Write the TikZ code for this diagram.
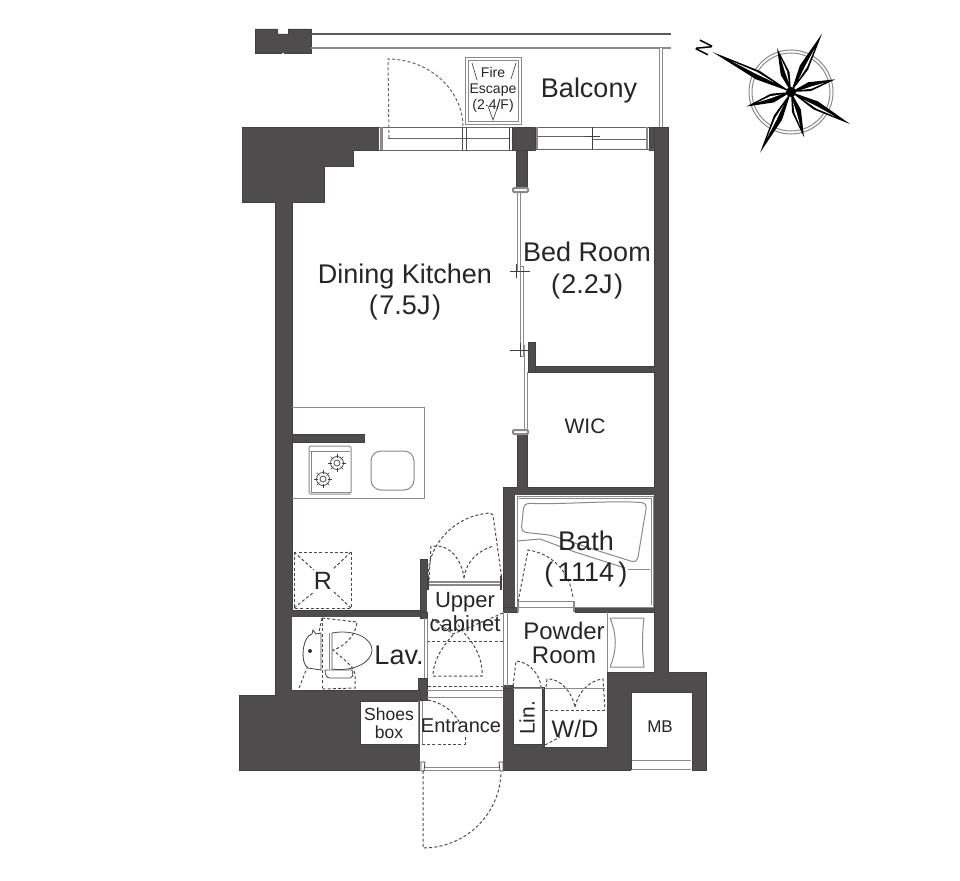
\documentclass[tikz,border=0pt]{standalone}
\usepackage{fontspec}
\setmainfont{Liberation Sans}
\definecolor{wallgray}{HTML}{4F4C4D}
\definecolor{linegray}{HTML}{8A8A8A}
\tikzset{
  wallfill/.style={fill=wallgray,draw=black!75,line width=0.6pt},
  roomfill/.style={fill=white,draw=none},
  fineline/.style={draw=linegray,line width=1pt},
  darkline/.style={draw=black!75,line width=0.8pt},
  swing/.style={draw=black!70,line width=1pt,dash pattern=on 3pt off 2.2pt},
  roomtext/.style={font=\fontsize{27}{31.5}\selectfont,align=center,inner sep=0pt,text=black!85},
  smalltext/.style={font=\fontsize{21}{24}\selectfont,align=center,inner sep=0pt,text=black!85},
  tinytext/.style={font=\fontsize{14}{16}\selectfont,align=center,inner sep=0pt,text=black!85}
}
\begin{document}
\begin{tikzpicture}[x=1pt,y=-1pt]

  \useasboundingbox (0,0) rectangle (960,880);

  \path[wallfill] (242,127) -- (668,127) -- (668,672) -- (706,672) -- (706,770) -- (239,770) -- (239,695) -- (275,695) -- (275,202) -- (242,202) -- cycle; %WALLS

  \path[roomfill] (292,202) -- (324,202) -- (324,166) -- (353,166) -- (353,150) -- (516,150) -- (516,432) -- (517,432) -- (517,487) -- (503,487) -- (503,580) -- (427,580) -- (427,559) -- (420,559) -- (420,610) -- (292,610) -- cycle; %DK
  \path[roomfill] (516,190) rectangle (528,432); %SLIDING
  \path[roomfill] (379,125) rectangle (512,151); %WINDOW-L
  \path[roomfill] (535,125) rectangle (649,151); %WINDOW-R
  \path[roomfill] (527,150) rectangle (654,366); %BED
  \path[roomfill] (527,372) rectangle (654,487); %WIC
  \path[roomfill] (515,495) rectangle (654,607); %BATH
  \path[roomfill] (515,606) rectangle (575,612); %BATH-DOOR
  \path[roomfill] (427,580) rectangle (503,700); %CABINET
  \path[roomfill] (292,617) rectangle (420,690); %LAV
  \path[roomfill] (419,617) rectangle (427,678); %LAV-DOOR
  \path[roomfill] (420,700) rectangle (503,772); %ENTRANCE
  \path[roomfill] (503,612) -- (654,612) -- (654,672) -- (607,672) -- (607,747) -- (544,747) -- (544,687) -- (503,687) -- cycle; %POWDER
  \path[roomfill] (513,689) rectangle (542,744); %LIN
  \path[roomfill] (360,701) rectangle (419,744); %SHOES
  \path[roomfill] (631,692) rectangle (692,771); %MB

  \draw[darkline] (292,202) -- (324,202) -- (324,166) -- (353,166) -- (353,150) -- (379,150); %STEPS
  \draw[darkline] (292,202) -- (292,610) -- (420,610) -- (420,559) -- (427,559) -- (427,580); %DK-EDGE
  \draw[darkline] (516,150) -- (516,188); %
  \draw[darkline] (527,150) -- (527,188); %
  \draw[darkline] (517,432) -- (517,487) -- (503,487) -- (503,612); %
  \draw[darkline] (527,432) -- (527,487) -- (654,487); %
  \draw[darkline] (654,150) -- (654,366) -- (535,366); %
  \draw[darkline] (527,372) -- (654,372) -- (654,487); %
  \draw[darkline] (360,701) -- (360,744) -- (418,744); %
  \draw[darkline] (360,701) -- (418,701); %
  \draw[darkline] (292,690) -- (420,690); %
  \draw[darkline] (513,689) -- (513,744) -- (542,744); %
  \draw[darkline] (544,747) -- (607,747) -- (607,672) -- (654,672) -- (654,612) -- (575,612); %
  \draw[darkline] (631,770) -- (631,692) -- (692,692) -- (692,770); %

  \path[wallfill] (528,342) -- (535,342) -- (535,372) -- (528,372) -- cycle; %STUB
  \path[wallfill] (292,434) rectangle (364,442); %KITCHEN-WALL
  \path[wallfill] (512,127) rectangle (535,150); %PILLAR
  \path[wallfill] (516,150) rectangle (527,188); %PILLAR-LOW
  \path[wallfill] (649,127) rectangle (654,150); %PILLAR-R
  \path[wallfill] (418,678) -- (427,678) -- (427,700) -- (420,700) -- (420,690) -- (418,690) -- cycle; %LAV-CAP
  \path[wallfill] (420,612) rectangle (427,618); %LAV-CAP-T
  \path[wallfill] (542,687) rectangle (544,747); %LIN-WD
  \path[wallfill] (575,607) rectangle (654,612); %BATH-LOW
  \path[wallfill] (503,607) rectangle (517,612); %BATH-LOW-L
  \path[wallfill] (503,685) rectangle (513,688); %POWDER-CAP

  % BALCONY
  \path[wallfill] (255,29) -- (277,29) -- (277,34) -- (288,34) -- (288,29) -- (311,29) -- (311,53) -- (255,53) -- cycle; %BLOCK
  \draw[draw=black!65,line width=1.8pt] (311,34) -- (671,34); %TOP
  \draw[draw=linegray,line width=1.8pt] (311,48) -- (671,48); %LOW
  \draw[fineline,double=white,double distance=1.2pt,line width=0.7pt] (283,53) -- (283,127); %POST-L
  \draw[fineline,double=white,double distance=1.5pt,line width=1pt] (661,48) -- (661,127); %POST-R

  % WINDOWS
  \draw[darkline,draw=black!60] (379,127) -- (512,127); %
  \draw[darkline,draw=black!60] (379,150) -- (512,150); %
  \draw[darkline,draw=black!60] (388,138) -- (509,138); %
  \draw[fineline,line width=3pt] (381,127) -- (381,150); %
  \draw[darkline,draw=black!70] (462,127) -- (462,150); %
  \draw[darkline,draw=black!70] (466,127) -- (466,150); %
  \draw[darkline] (509,127) -- (509,150); %
  \draw[darkline,draw=black!60] (535,127) -- (649,127); %
  \draw[darkline,draw=black!60] (535,149) -- (654,149); %
  \draw[darkline,draw=black!60] (537,136) -- (592,136); %
  \draw[darkline,draw=black!60] (592,139) -- (647,139); %
  \draw[darkline] (585,136) -- (600,136); %
  \draw[darkline] (592,127) -- (592,149); %
  \draw[fineline,line width=2pt] (537,127) -- (537,149); %
  \draw[fineline,line width=2pt] (647,127) -- (647,149); %

  % SLIDING DOORS
  \draw[fineline,line width=2pt,rounded corners=1pt,fill=white] (513,188) rectangle (528,192); %
  \draw[fineline,line width=2pt,rounded corners=1pt,fill=white] (513,430) rectangle (528,434); %
  \draw[fineline] (517,192) -- (517,272); %
  \draw[fineline] (520,192) -- (520,272); %
  \draw[fineline] (520,266) -- (523,266) -- (523,356) -- (520,356) -- (520,266); %
  \draw[fineline] (524,345) -- (524,430); %
  \draw[fineline] (527,372) -- (527,430); %
  \draw[darkline] (510,271) -- (530,271); %
  \draw[darkline] (516,264) -- (516,278); %
  \draw[darkline] (510,350) -- (530,350); %
  \draw[darkline] (520,343) -- (520,357); %

  % KITCHEN
  \draw[fineline] (292,407) -- (424,407) -- (424,498) -- (292,498); %COUNTER
  \draw[fineline,rounded corners=1.5pt] (309,446) rectangle (351,494); %STOVE
  \draw[fineline] (310,451) -- (350,451); %
  \draw[fineline] (311,451) -- (311,492) -- (350,492); %
  \foreach \bx/\by in {337/463,323/479} {
    \draw[black!75,line width=0.7pt] (\bx,\by) circle (6.5pt);
    \draw[black!75,line width=0.7pt] (\bx,\by) circle (3pt);
    \foreach \spoke in {0,45,...,315}
      \draw[black!75,line width=0.6pt] (\bx,\by) ++(\spoke:5pt) -- ++(\spoke:4pt);
  }
  \draw[fineline,rounded corners=10pt] (371,451) rectangle (414,490); %SINK

  % FRIDGE
  \draw[swing] (294,552) rectangle (351,608); %
  \draw[swing] (294,552) -- (314,570); %
  \draw[swing] (351,552) -- (332,570); %
  \draw[swing] (294,608) -- (314,592); %
  \draw[swing] (351,608) -- (334,592); %

  % UPPER CABINET
  \draw[fineline,line width=1.2pt] (428,582) -- (502,582); %
  \draw[fineline,line width=1.2pt] (428,585) -- (502,585); %
  \draw[darkline,line width=2pt] (428,576) -- (428,590); %
  \draw[darkline,line width=2pt] (501,576) -- (501,590); %
  \draw[swing] (428,577) .. controls (428,542) and (457,515) .. (490,513) -- (493,515) -- (502,580); %
  \draw[swing] (429,580) -- (431,546) -- (435,546) .. controls (450,545) and (462,560) .. (464,578); %
  \draw[swing] (464,578) .. controls (466,562) and (478,550) .. (494,546); %
  \draw[swing] (427,641) -- (503,641); %
  \draw[swing] (503,613) -- (482,622) -- (453,634) -- (432,619); %
  \draw[swing] (453,635) .. controls (441,648) and (433,662) .. (433,676) -- (482,676) .. controls (483,660) and (476,646) .. (465,634) -- (456,622); %
  \draw[swing] (428,686) -- (503,686); %
  \draw[fineline] (503,612) -- (503,687); %
  \draw[fineline] (507,612) -- (507,687); %
  \draw[fineline] (427,690) -- (503,690); %
  \draw[fineline] (427,697) -- (503,697); %
  \draw[fineline] (424,618) -- (424,678); %
  \draw[fineline] (427,618) -- (427,678); %

  % TOILET
  \draw[fineline,draw=black!70,line width=0.8pt] (332,633) .. controls (354,629) and (372,638) .. (372,650) .. controls (372,662) and (354,672) .. (332,669) -- cycle; %
  \draw[fineline,line width=1pt] (329,633) -- (329,669); %
  \draw[fineline,draw=black!70,line width=0.8pt] (325,670) -- (352,670) .. controls (354,676) and (352,678) .. (350,678) -- (330,678) .. controls (327,678) and (325,675) .. (325,670); %
  \draw[darkline] (312,634) .. controls (302,636) and (300,664) .. (308,668) -- (321,670) -- (321,633) -- (316,634) -- (313,630) -- (312,634); %
  \fill[black!80] (310,651) circle (2pt); %
  \draw[swing] (322,618) -- (322,688); %
  \draw[swing] (322,618) -- (357,622) .. controls (356,634) and (346,646) .. (333,650) -- (340,656) .. controls (350,664) and (355,670) .. (355,675) -- (355,688) -- (322,689); %
  \draw[swing] (322,618) -- (319,632); %
  \draw[swing] (299,688) -- (307,668); %

  % ENTRANCE
  \draw[fineline] (422,701) -- (422,744); %
  \draw[fineline] (418,701) -- (418,744); %
  \draw[swing] (422,744) -- (465,744) -- (465,735); %
  \draw[swing] (428,700) .. controls (448,704) and (458,718) .. (460,724); %
  \draw[fineline] (424,767) -- (500,767); %
  \draw[fineline] (424,770) -- (500,770); %
  \draw[darkline,fill=white] (421,762) -- (425,762) -- (424,771) -- (421,771) -- cycle; %
  \draw[darkline,fill=white] (499,762) -- (503,762) -- (503,771) -- (500,771) -- cycle; %
  \draw[swing] (423,771) -- (423,848) .. controls (465,848) and (500,815) .. (501,772); %

  % BATH
  \draw[fineline] (517,496) rectangle (653,607); %
  \draw[fineline] (519,498) -- (651,498) -- (651,605); %
  \draw[fineline,rounded corners=5pt] (524,503) .. controls (560,505) and (610,500) .. (647,503) -- (637,563) -- (605,553) -- (550,535) -- (521,532) -- cycle; %
  \draw[fineline] (517,541) -- (540,539) -- (575,552) -- (625,568); %
  \draw[fineline] (628,569) -- (650,569); %
  \draw[swing] (518,602) -- (528,550) .. controls (550,553) and (570,570) .. (573,598); %
  \draw[fineline] (518,601) -- (574,601); %
  \draw[fineline,line width=2pt] (518,601) -- (518,612); %
  \draw[fineline,line width=2pt] (574,601) -- (574,612); %

  % POWDER ROOM
  \draw[fineline] (607,612) -- (607,672); %
  \draw[fineline] (610,618) -- (644,618) .. controls (642,635) and (642,650) .. (644,667) -- (610,667); %
  \draw[fineline] (610,618) .. controls (617,635) and (617,650) .. (610,667); %
  \draw[fineline] (513,688) -- (544,688); %
  \draw[swing] (513,686) -- (516,661) .. controls (530,662) and (540,675) .. (541,687); %
  \draw[swing] (546,687) -- (547,679) .. controls (560,678) and (572,692) .. (575,707); %
  \draw[swing] (575,707) .. controls (578,692) and (590,680) .. (603,679) -- (605,710); %
  \draw[swing] (545,710) -- (607,710); %
  \draw[swing] (545,745) -- (560,737); %
  \draw[fineline] (545,688) -- (605,688); %
  \draw[fineline] (632,760) -- (691,760); %
  \draw[fineline] (632,769) -- (691,769); %

  % FIRE ESCAPE
  \draw[fineline,fill=white,double=white,double distance=1.5pt,line width=1pt] (467,59) rectangle (520,123); %
  \draw[black!70,line width=0.7pt] (472,63) -- (477,80); %
  \draw[black!70,line width=0.7pt] (516,63) -- (511,79); %
  \draw[swing,draw=black!60] (389,138) -- (388,59) .. controls (429,59) and (463,90) .. (463,127); %DOOR
  \draw[black!70,line width=0.7pt] (488,106) -- (493,120) -- (498,106); %

  % COMPASS
  \draw[linegray,line width=1pt] (791,92) circle (42pt); %
  \draw[linegray,line width=1pt] (791,92) circle (39pt); %
  \foreach \ang/\len in {153/88,62/66,16/46,-28.5/67,-74/47,-117/68,198/47,107.6/46} {
    \fill[black,shift={(791,92)},rotate=\ang] (0,0) -- (0.42*\len,4.6) -- (\len,0) -- (0.42*\len,-4.6) -- cycle;
    \fill[white,shift={(791,92)},rotate=\ang] (0.22*\len,0.8) -- (0.45*\len,2.4) -- (0.75*\len,0.5) -- (0.45*\len,0.3) -- cycle;
  }
  \fill[black] (791,92) circle (5pt); %
  \node[font=\fontsize{20}{20}\selectfont,inner sep=0pt,rotate=63] (north) at (704,48) {N};

  % LABELS
  \node[roomtext] (balcony) at (589,91) {Balcony};
  \node[roomtext] (dining) at (405,292) {Dining Kitchen\\(\kern1.5pt 7.5J\kern1.5pt)};
  \node[roomtext] (bed) at (587,270.5) {Bed Room\\(\kern1.5pt 2.2J\kern1.5pt)};
  \node[smalltext] (wic) at (585,426) {WIC};
  \node[roomtext] (bath) at (586,559) {Bath\\(\,1114\,)};
  \node[roomtext,font=\fontsize{25}{31}\selectfont] (fridge) at (323,581) {R};
  \node[smalltext,font=\fontsize{22}{24}\selectfont] (upper) at (465,612) {Upper\\cabinet};
  \node[roomtext] (lav) at (399,655) {Lav.};
  \node[smalltext,font=\fontsize{17.5}{18}\selectfont] (shoes) at (389,723) {Shoes\\box};
  \node[smalltext,font=\fontsize{20}{24}\selectfont] (entrance) at (461,726) {Entrance};
  \node[smalltext,font=\fontsize{24}{24}\selectfont] (powder) at (564,643) {Powder\\Room};
  \node[smalltext,rotate=90] (lin) at (527,718) {Lin.};
  \node[smalltext,font=\fontsize{24}{24}\selectfont] (wd) at (575,729) {W/D};
  \node[smalltext,font=\fontsize{17}{20}\selectfont] (mb) at (660,727) {MB};
  \node[tinytext] (fire) at (493,90) {Fire\\Escape\\(2$\cdot$4/F)};

\end{tikzpicture}
\end{document}
